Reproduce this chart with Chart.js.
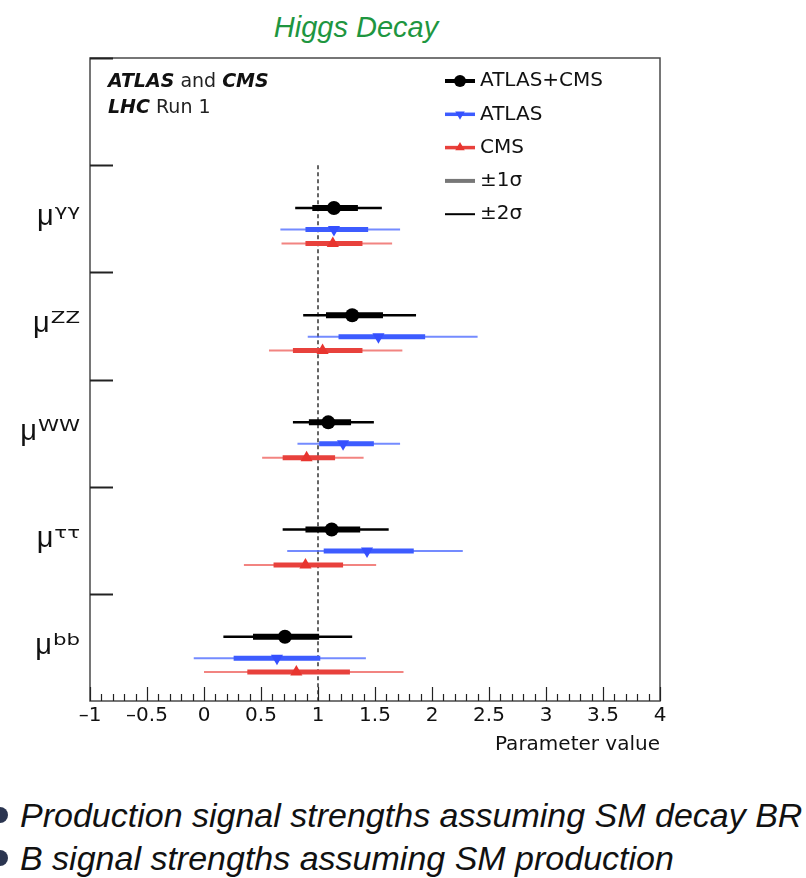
<!DOCTYPE html>
<html>
<head>
<meta charset="utf-8">
<script src="https://cdn.jsdelivr.net/npm/chart.js@4.4.1/dist/chart.umd.min.js"></script>
<style>
  html, body { margin: 0; padding: 0; background: #fff; }
  body { width: 806px; height: 878px; position: relative; overflow: hidden; }
  #title { position: absolute; left: 0; top: 11px; width: 712px; text-align: center;
           font: italic 29px "Liberation Sans", Arial, sans-serif; line-height: 32px; color: #1e9640; }
  #wrap { position: absolute; left: 0; top: 0; width: 806px; height: 770px; }
  .note { position: absolute; left: 20px; font: italic 34px "Liberation Sans", Arial, sans-serif;
          line-height: 40px; color: #111; white-space: nowrap; }
  .dot { position: absolute; left: -8px; width: 16px; height: 16px; border-radius: 50%; background: #2b3550; }
</style>
</head>
<body>
<div id="title">Higgs Decay</div>
<div id="wrap"><canvas id="c" width="806" height="770"></canvas></div>
<div class="dot" style="top:807px"></div>
<div class="note" style="top:795px">Production signal strengths assuming SM decay BR</div>
<div class="dot" style="top:850px"></div>
<div class="note" style="top:838px">B signal strengths assuming SM production</div>
<script>
// ---- data ----
const categories = ['γγ', 'ZZ', 'WW', 'ττ', 'bb'];
const seriesNames = ['ATLAS+CMS', 'ATLAS', 'CMS'];
// ATLAS+CMS
const combMu  = [1.14, 1.30, 1.09, 1.12, 0.71];
const combLo1 = [0.95, 1.07, 0.92, 0.89, 0.43];
const combHi1 = [1.35, 1.57, 1.29, 1.37, 1.01];
const combLo2 = [0.80, 0.87, 0.78, 0.69, 0.17];
const combHi2 = [1.56, 1.86, 1.49, 1.62, 1.30];
// ATLAS
const atlasMu  = [1.14, 1.53, 1.22, 1.43, 0.64];
const atlasLo1 = [0.89, 1.18, 1.01, 1.05, 0.26];
const atlasHi1 = [1.44, 1.94, 1.49, 1.84, 1.02];
const atlasLo2 = [0.67, 0.91, 0.82, 0.73, -0.09];
const atlasHi2 = [1.72, 2.40, 1.72, 2.27, 1.42];
// CMS
const cmsMu  = [1.13, 1.04, 0.90, 0.89, 0.81];
const cmsLo1 = [0.89, 0.78, 0.69, 0.61, 0.38];
const cmsHi1 = [1.39, 1.39, 1.15, 1.22, 1.28];
const cmsLo2 = [0.68, 0.57, 0.51, 0.35, 0.00];
const cmsHi2 = [1.65, 1.74, 1.40, 1.51, 1.75];
// axis
const xTicks = [-1, -0.5, 0, 0.5, 1, 1.5, 2, 2.5, 3, 3.5, 4];
const smValue = 1;
const legendLabels = ['ATLAS+CMS', 'ATLAS', 'CMS', '±1σ', '±2σ'];
const annotationLines = [[['ATLAS', true], [' and ', false], ['CMS', true]], [['LHC', true], [' Run 1', false]]];

// ---- styling ----
const styles = [
  { off: 0.40, thick: '#000000', thin: '#000000', w1: 6, w2: 2.5, point: 'circle', rot: 0, r: 7, pc: '#000000' },
  { off: 0.60, thick: '#3d5cff', thin: 'rgba(70,100,255,0.75)', w1: 5, w2: 2, point: 'triangle', rot: 180, r: 7, pc: '#3550ff' },
  { off: 0.73, thick: '#e8413c', thin: 'rgba(236,80,75,0.7)', w1: 5, w2: 2, point: 'triangle', rot: 0, r: 7, pc: '#e8352f' }
];
const seriesData = [
  [combMu, combLo1, combHi1, combLo2, combHi2],
  [atlasMu, atlasLo1, atlasHi1, atlasLo2, atlasHi2],
  [cmsMu, cmsLo1, cmsHi1, cmsLo2, cmsHi2]
];

function segments(lo, hi, off) {
  const d = [];
  lo.forEach((l, i) => {
    const yy = i + 1 + off;
    d.push({ x: l, y: yy }, { x: hi[i], y: yy }, { x: null, y: null });
  });
  return d;
}

const datasets = [];
seriesData.forEach((s, k) => {
  const st = styles[k];
  const [mu, lo1, hi1, lo2, hi2] = s;
  datasets.push({
    label: seriesNames[k], data: mu.map((v, i) => ({ x: v, y: i + 1 + st.off })),
    showLine: false, pointStyle: st.point, pointRotation: st.rot, pointRadius: st.r,
    pointBackgroundColor: st.pc, pointBorderColor: st.pc, pointBorderWidth: 0, order: 0
  });
  datasets.push({
    label: seriesNames[k] + ' 1σ', data: segments(lo1, hi1, st.off), showLine: true, spanGaps: false,
    borderColor: st.thick, borderWidth: st.w1, pointRadius: 0, order: 1
  });
  datasets.push({
    label: seriesNames[k] + ' 2σ', data: segments(lo2, hi2, st.off), showLine: true, spanGaps: false,
    borderColor: st.thin, borderWidth: st.w2, pointRadius: 0, order: 2
  });
});
datasets.push({
  label: 'SM', data: [{ x: smValue, y: 1 }, { x: smValue, y: categories.length + 1 }],
  showLine: true, borderColor: '#333', borderWidth: 1.5, borderDash: [4, 3], pointRadius: 0, order: 3
});

const decor = {
  id: 'decor',
  afterDraw(chart) {
    const { ctx, chartArea: a, scales: { x, y } } = chart;
    ctx.save();
    // frame
    ctx.strokeStyle = '#4a4a4a'; ctx.lineWidth = 1.5;
    ctx.strokeRect(a.left, a.top, a.right - a.left, a.bottom - a.top);
    // left inward ticks at category boundaries
    ctx.strokeStyle = '#222'; ctx.lineWidth = 2;
    for (let k = 0; k <= categories.length; k++) {
      const py = Math.round(y.getPixelForValue(k)) + 0.5;
      ctx.beginPath(); ctx.moveTo(a.left, py); ctx.lineTo(a.left + 23, py); ctx.stroke();
    }
    // bottom inward ticks
    ctx.lineWidth = 1.2; ctx.strokeStyle = '#222';
    const xmin = xTicks[0], xmax = xTicks[xTicks.length - 1];
    const nMinor = Math.round((xmax - xmin) * 10);
    for (let i = 0; i <= nMinor; i++) {
      const v = xmin + i / 10;
      const px = Math.round(x.getPixelForValue(v)) + 0.5;
      const len = (i % 5 === 0) ? 14 : 7;
      ctx.beginPath(); ctx.moveTo(px, a.bottom); ctx.lineTo(px, a.bottom - len); ctx.stroke();
    }
    // category labels  μ^xx
    ctx.fillStyle = '#111'; ctx.textBaseline = 'alphabetic'; ctx.textAlign = 'left';
    const muFont = '29px "Liberation Sans", Arial, sans-serif';
    const supFont = '15px "DejaVu Sans", sans-serif';
    const stretch = 1.42;
    categories.forEach((c, i) => {
      const by = y.getPixelForValue(i + 1.56);
      ctx.font = supFont;
      const sw = ctx.measureText(c).width * stretch;
      const supLeft = a.left - 10 - sw;
      ctx.font = muFont;
      const mw = ctx.measureText('μ').width;
      ctx.fillText('μ', supLeft - mw - 1, by);
      ctx.save();
      ctx.translate(supLeft, by - 9);
      ctx.scale(stretch, 1);
      ctx.font = supFont;
      ctx.fillText(c, 0, 0);
      ctx.restore();
    });
    // annotation text
    ctx.textBaseline = 'middle';
    annotationLines.forEach((parts, li) => {
      let xx = a.left + 18;
      const yy = a.top + 24 + li * 26;
      parts.forEach(([t, bold]) => {
        ctx.font = (bold ? 'italic bold ' : '') + '19px "DejaVu Sans", sans-serif';
        ctx.fillStyle = bold ? '#111' : '#222';
        ctx.fillText(t, xx, yy);
        xx += ctx.measureText(t).width;
      });
    });
    // legend
    const lx0 = a.left + 355, lx1 = a.left + 385, lxm = (lx0 + lx1) / 2;
    legendLabels.forEach((lab, k) => {
      const yy = a.top + 23 + k * 33.3;
      ctx.lineCap = 'butt';
      if (k < 3) {
        const st = styles[k];
        ctx.strokeStyle = st.thick; ctx.lineWidth = k === 0 ? 4 : 3.5;
        ctx.beginPath(); ctx.moveTo(lx0, yy); ctx.lineTo(lx1, yy); ctx.stroke();
        ctx.fillStyle = st.pc; ctx.strokeStyle = st.pc;
        Chart.helpers.drawPoint(ctx, { pointStyle: st.point, rotation: st.rot, radius: k === 0 ? 6 : 5.5, borderWidth: 0 }, lxm, yy);
      } else if (k === 3) {
        ctx.strokeStyle = '#777'; ctx.lineWidth = 4;
        ctx.beginPath(); ctx.moveTo(lx0, yy); ctx.lineTo(lx1, yy); ctx.stroke();
      } else {
        ctx.strokeStyle = '#000'; ctx.lineWidth = 2;
        ctx.beginPath(); ctx.moveTo(lx0, yy); ctx.lineTo(lx1, yy); ctx.stroke();
      }
      ctx.fillStyle = '#111';
      ctx.font = '20px "DejaVu Sans", sans-serif';
      ctx.textAlign = 'left'; ctx.textBaseline = 'middle';
      ctx.fillText(lab, lx1 + 5, yy);
    });
    ctx.restore();
  }
};

new Chart(document.getElementById('c'), {
  type: 'scatter',
  data: { datasets },
  options: {
    responsive: false,
    animation: false,
    devicePixelRatio: 1,
    layout: { padding: { left: 90, top: 58, right: 146, bottom: 0 } },
    plugins: { legend: { display: false }, tooltip: { enabled: false }, title: { display: false } },
    scales: {
      x: {
        type: 'linear', min: xTicks[0], max: xTicks[xTicks.length - 1],
        afterBuildTicks: s => { s.ticks = xTicks.map(v => ({ value: v })); },
        afterFit: s => { s.height = 69; },
        grid: { display: false, drawTicks: false },
        border: { display: false },
        ticks: {
          autoSkip: false, maxRotation: 0, padding: 3, color: '#111',
          font: { family: '"DejaVu Sans", sans-serif', size: 20 },
          callback: v => String(v).replace('-', '–')
        },
        title: {
          display: true, text: 'Parameter value', align: 'end', color: '#111',
          font: { family: '"DejaVu Sans", sans-serif', size: 20 },
          padding: { top: 0, bottom: 13 }
        }
      },
      y: {
        type: 'linear', reverse: true, min: 0, max: categories.length + 1, display: false
      }
    }
  },
  plugins: [decor]
});
</script>
</body>
</html>
